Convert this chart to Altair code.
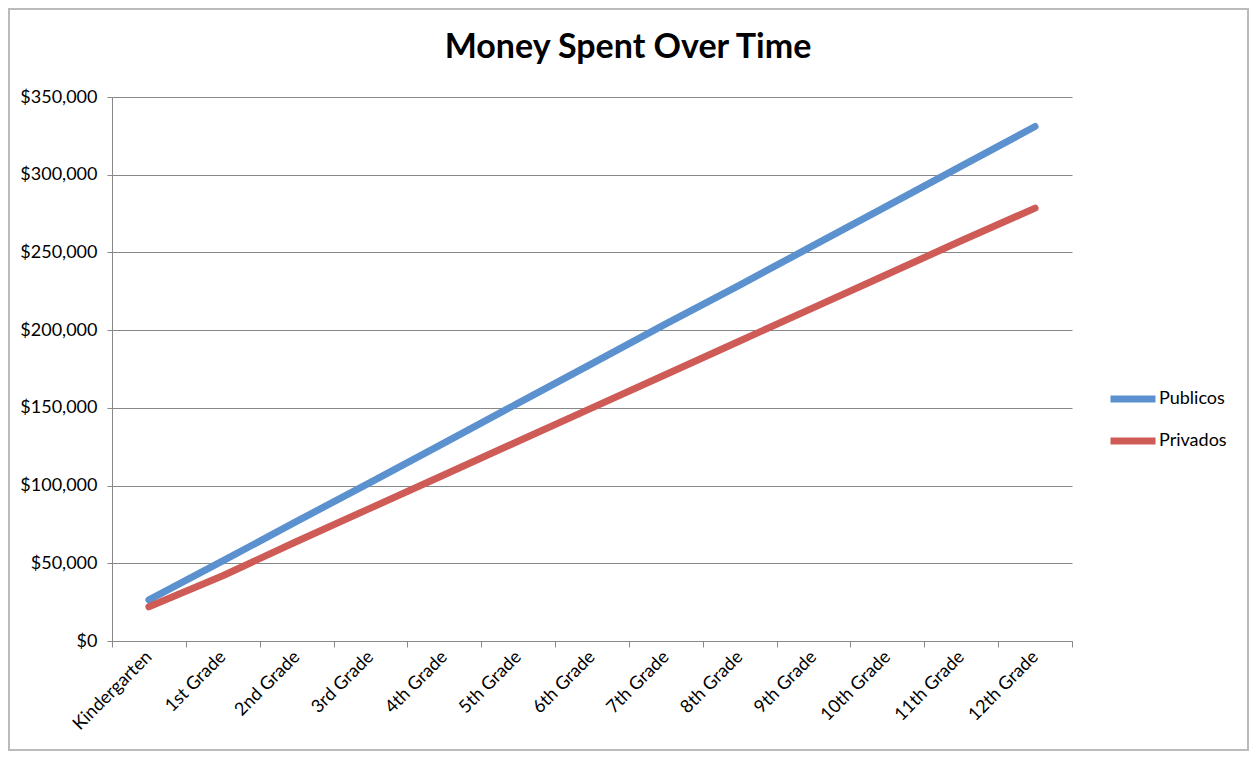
import altair as alt
import pandas as pd

grades = ["Kindergarten", "1st Grade", "2nd Grade", "3rd Grade", "4th Grade", "5th Grade",
          "6th Grade", "7th Grade", "8th Grade", "9th Grade", "10th Grade", "11th Grade", "12th Grade"]
publicos = [26400, 51500, 77000, 102000, 127500, 153000, 178500, 204000, 229000, 254500, 280000, 305500, 331000]
privados = [22000, 42000, 64000, 85500, 107000, 128500, 150000, 171500, 193000, 214500, 236000, 257500, 278500]
series = ["Publicos", "Privados"]
colors = ["#5A91CE", "#CF5B57"]
y_ticks = [0, 50000, 100000, 150000, 200000, 250000, 300000, 350000]
title_text = "Money Spent Over Time"

rows = []
for g, a, b in zip(grades, publicos, privados):
    rows.append({"grade": g, "serie": "Publicos", "value": a})
    rows.append({"grade": g, "serie": "Privados", "value": b})
df = pd.DataFrame(rows)

FONT = "Lato"

lines = alt.Chart(df).mark_line(strokeWidth=7, strokeCap="round", strokeJoin="round").encode(
    x=alt.X("grade:N", sort=grades, bandPosition=0.5,
            scale=alt.Scale(type="band", paddingInner=0, paddingOuter=0),
            axis=alt.Axis(title=None, labelAngle=-45, labelAlign="right", labelBaseline="middle",
                          tickBand="extent", tickSize=6, labelPadding=7, labelFontSize=18,
                          labelFont=FONT, labelColor="#000", domainColor="#888", tickColor="#888",
                          grid=False)),
    y=alt.Y("value:Q", scale=alt.Scale(domain=[0, 350000], nice=False),
            axis=alt.Axis(title=None, values=y_ticks, format="$,.0f", labelFontSize=18, labelFont=FONT,
                          labelColor="#000", tickSize=5, labelPadding=10, domainColor="#888",
                          tickColor="#888", gridColor="#888", gridWidth=1)),
    color=alt.Color("serie:N", sort=series,
                    scale=alt.Scale(domain=series, range=colors),
                    legend=alt.Legend(title=None, orient="none", legendX=995, legendY=276,
                                      symbolType="stroke", symbolSize=2025, symbolStrokeWidth=7,
                                      labelFontSize=18, labelFont=FONT, labelColor="#000",
                                      rowPadding=2, labelOffset=0)),
    detail="serie:N",
)

border = alt.Chart(pd.DataFrame({"a": [0]})).mark_rect(
    fill=None, stroke="#BBBBBB", strokeWidth=2, clip=False
).encode(x=alt.value(-103), x2=alt.value(1136), y=alt.value(-88), y2=alt.value(653))

title = alt.Chart(pd.DataFrame({"t": [title_text]})).mark_text(
    font=FONT, fontSize=34, fontWeight="bold", color="#000", align="center", baseline="middle", clip=False
).encode(text="t:N", x=alt.value(516), y=alt.value(-49))

chart = alt.layer(border, lines, title).properties(
    width=960, height=544,
    padding={"left": 104, "top": 89, "right": 177, "bottom": 110},
    autosize=alt.AutoSizeParams(type="none"),
).configure_view(stroke=None)

chart.save("out.html", embed_options={"renderer": "svg", "actions": False})
